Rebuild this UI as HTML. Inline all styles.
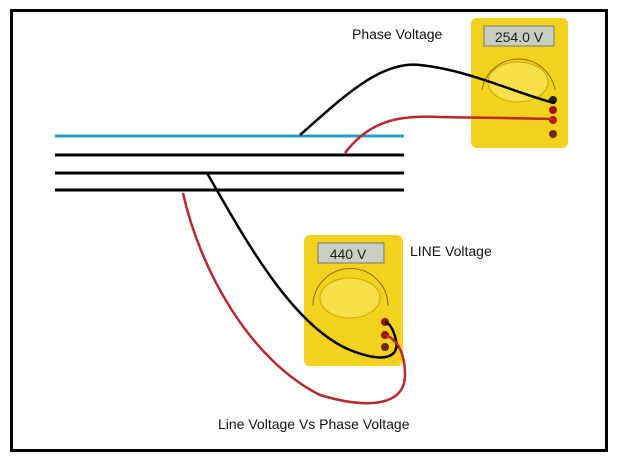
<!DOCTYPE html>
<html><head><style>body{margin:0;background:#fff}svg{display:block}text{font-family:"Liberation Sans",sans-serif}</style></head>
<body>
<svg width="617" height="460" viewBox="0 0 617 460">
<rect x="0" y="0" width="617" height="460" fill="#fff"/>
<rect x="11.5" y="10.5" width="595" height="440" fill="none" stroke="#000" stroke-width="3"/>
<line x1="55" y1="136" x2="404" y2="136" stroke="#2a9cc4" stroke-width="3"/>
<line x1="55" y1="155" x2="404" y2="155" stroke="#000" stroke-width="3"/>
<line x1="55" y1="173" x2="404" y2="173" stroke="#000" stroke-width="3"/>
<line x1="55" y1="190" x2="404" y2="190" stroke="#000" stroke-width="3"/>
<!-- top meter -->
<g>
<rect x="471" y="18" width="97" height="130" rx="6" fill="#f2d21c"/>
<rect x="484" y="26" width="70" height="20" fill="#c9cfc0" stroke="#777"/>
<text x="519" y="42" font-size="14" text-anchor="middle" fill="#222">254.0 V</text>
<path d="M482,90 A37,37 0 0 1 555,90" fill="none" stroke="#8a6a00" stroke-width="1"/>
<ellipse cx="518" cy="82" rx="30" ry="20" fill="#f7e04a" stroke="#c9a800"/>
<circle cx="553" cy="100" r="4" fill="#222"/><circle cx="553" cy="110" r="4" fill="#a01010"/>
<circle cx="553" cy="120" r="4" fill="#c01010"/><circle cx="553" cy="134" r="4" fill="#6a2a10"/>
</g>
<text x="352" y="39" font-size="14" fill="#111">Phase Voltage</text>
<!-- bottom meter -->
<g>
<rect x="304" y="235" width="99" height="131" rx="6" fill="#f2d21c"/>
<rect x="318" y="243" width="66" height="20" fill="#c9cfc0" stroke="#777"/>
<text x="348" y="259" font-size="14" text-anchor="middle" fill="#222">440 V</text>
<path d="M313,306 A37,37 0 0 1 388,306" fill="none" stroke="#8a6a00" stroke-width="1"/>
<ellipse cx="350" cy="298" rx="30" ry="20" fill="#f7e04a" stroke="#c9a800"/>
<circle cx="385" cy="322" r="4" fill="#a01010"/><circle cx="385" cy="335" r="4" fill="#a01010"/>
<circle cx="385" cy="347" r="4" fill="#6a2a10"/>
</g>
<text x="410" y="256" font-size="14" fill="#111">LINE Voltage</text>
<!-- wires -->
<path d="M300,135 C340,100 380,60 420,65 C470,70 520,95 555,103" fill="none" stroke="#000" stroke-width="2.5"/>
<path d="M345,153 C370,120 400,115 440,117 C490,118 520,118 553,119" fill="none" stroke="#b8282e" stroke-width="2.5"/>
<path d="M207,173 C240,230 290,325 350,350 C380,362 400,360 396,340 C393,328 389,323 385,322" fill="none" stroke="#000" stroke-width="2.5"/>
<path d="M183,193 C200,270 250,360 320,395 C370,410 405,405 405,375 C405,350 395,338 385,335" fill="none" stroke="#b8282e" stroke-width="2.5"/>
<text x="218" y="429" font-size="14" fill="#111">Line Voltage Vs Phase Voltage</text>
</svg>
</body></html>
